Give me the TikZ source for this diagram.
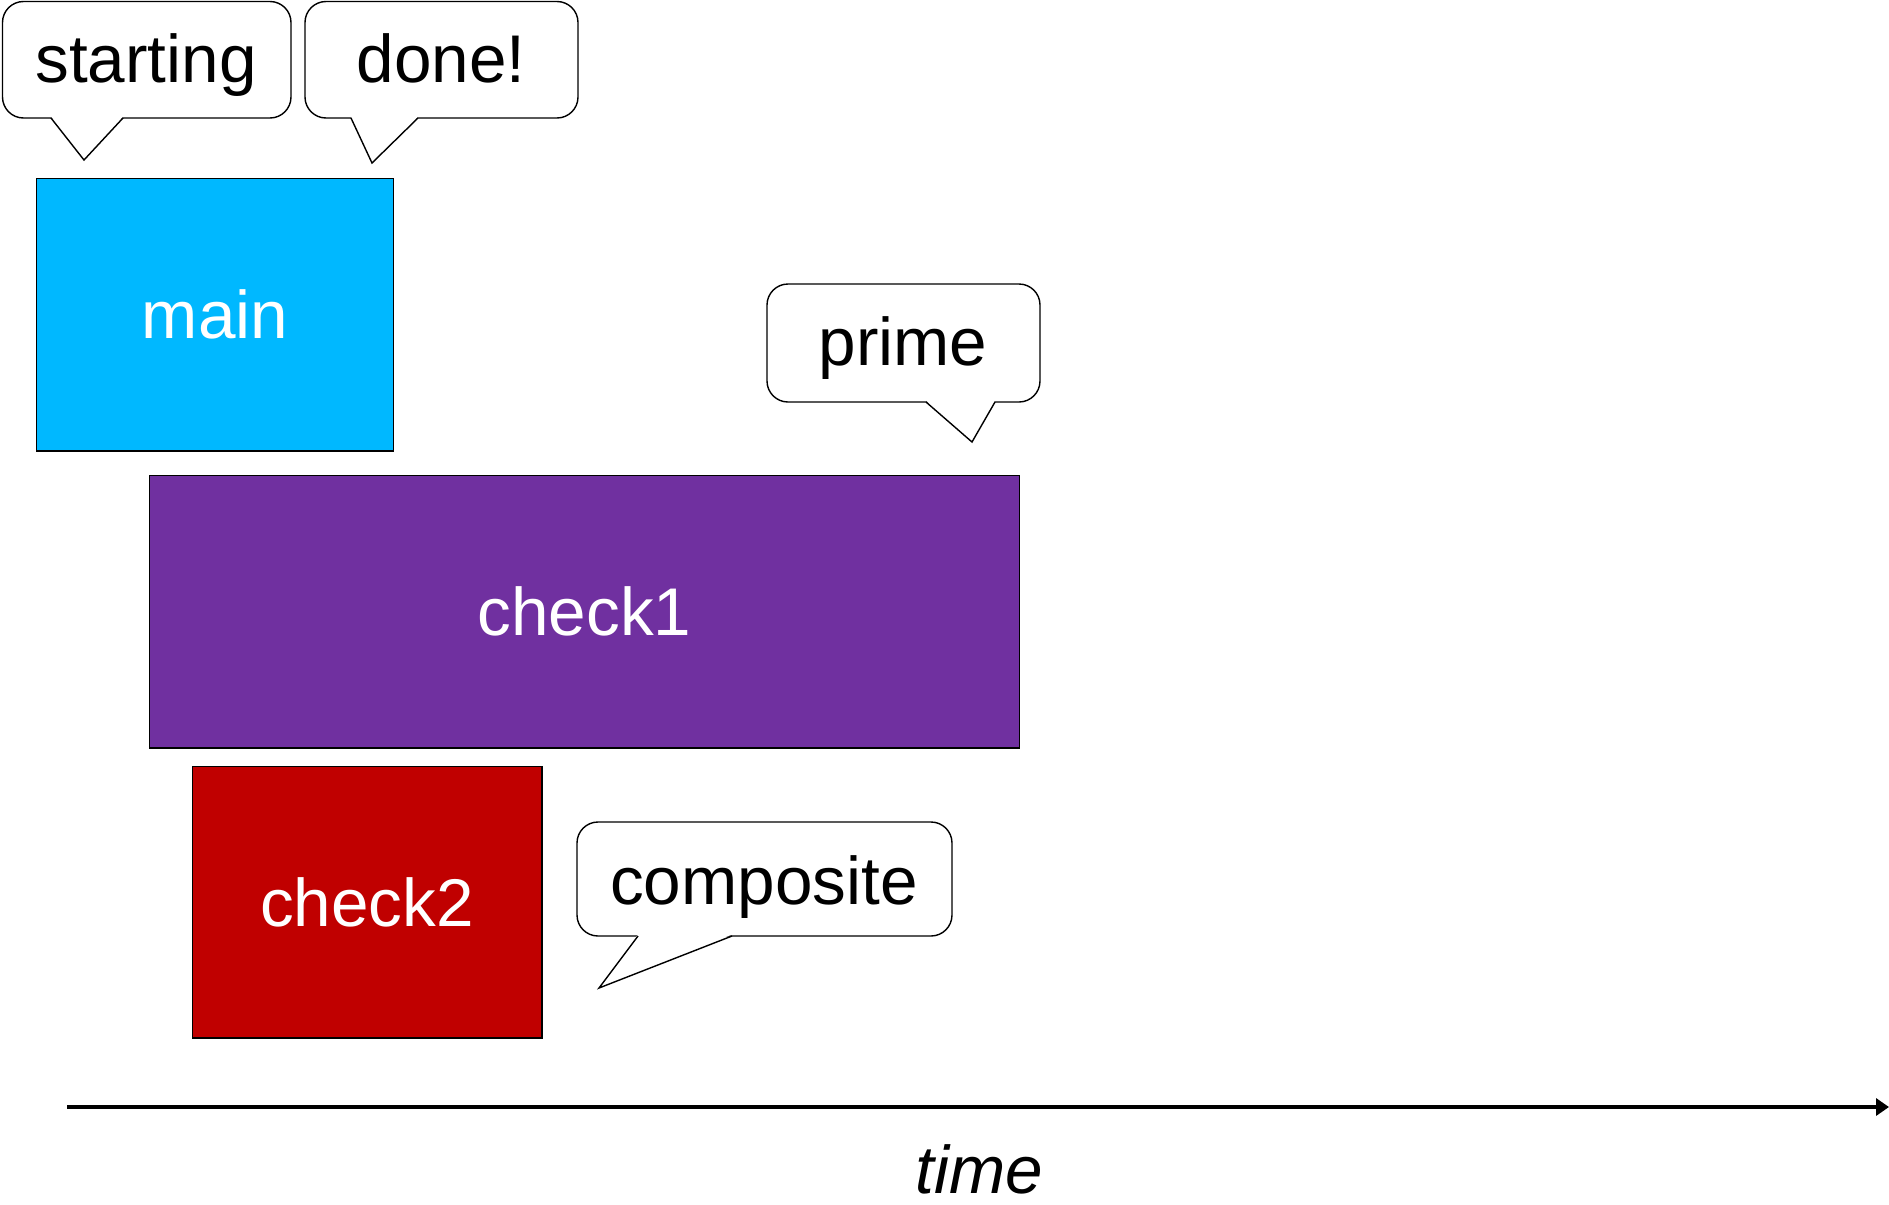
\documentclass[tikz,border=0pt]{standalone}
\usepackage{fontspec}
\setmainfont{Liberation Sans}
\usetikzlibrary{arrows.meta}

\definecolor{mainblue}{HTML}{00B8FF}
\definecolor{checkpurple}{HTML}{7030A0}
\definecolor{checkred}{HTML}{C00000}

\tikzset{
  task/.style={draw=black, line width=0.6pt, inner sep=0pt, text=white,
    font=\fontsize{38.4}{46}\selectfont},
  bubble/.style={draw=black, line width=0.8pt, fill=white, rounded corners=0.42cm},
  tailfill/.style={fill=white},
  tailline/.style={draw=black, line width=0.8pt, line join=miter},
  saytext/.style={anchor=base, inner sep=0pt, font=\fontsize{38.4}{46}\selectfont},
  axis/.style={line width=2.3pt, -{Triangle[length=0.26cm,width=0.34cm]}},
}

\begin{document}
\begin{tikzpicture}[x=0.02cm, y=-0.02cm]
        \useasboundingbox (0,0) rectangle (1889,1204);

        % threads
            \node[task, fill=mainblue, minimum width=7.16cm, minimum height=5.46cm] (main) at (215,314.5) {main};
            \node[task, fill=checkpurple, minimum width=17.42cm, minimum height=5.46cm] (check1) at (584.5,611.5) {check1};
            \node[task, fill=checkred, minimum width=7.0cm, minimum height=5.44cm] (check2) at (367,902) {check2};

        % speech bubbles
            \draw[bubble] (2.5,1.5) rectangle (291,118);
            \fill[tailfill] (51,116.5) -- (84,160) -- (123,116.5) -- cycle;
            \draw[tailline] (51,118) -- (84,160) -- (123,118);
            \node[saytext] (starting) at (146,82) {starting};

            \draw[bubble] (305,1.5) rectangle (578,118);
            \fill[tailfill] (351,116.5) -- (372,163) -- (418,116.5) -- cycle;
            \draw[tailline] (351,118) -- (372,163) -- (418,118);
            \node[saytext] (done) at (441,82) {done!};

            \draw[bubble] (767,284) rectangle (1040,402);
            \fill[tailfill] (926,400.5) -- (972,442) -- (995,400.5) -- cycle;
            \draw[tailline] (926,402) -- (972,442) -- (995,402);
            \node[saytext] (prime) at (903,365) {prime};

            \draw[bubble] (577,822) rectangle (952,936);
            \fill[tailfill] (638,934.5) -- (599,988) -- (732,934.5) -- cycle;
            \draw[tailline] (638,936) -- (599,988) -- (732,936);
            \node[saytext] (composite) at (764,904) {composite};

        % time axis
            \coordinate (t0) at (67,1107);
            \coordinate (t1) at (1889,1107);
            \draw[axis] (t0) -- (t1);
            \node[saytext] (time) at (979,1193) {\itshape time};

\end{tikzpicture}
\end{document}
